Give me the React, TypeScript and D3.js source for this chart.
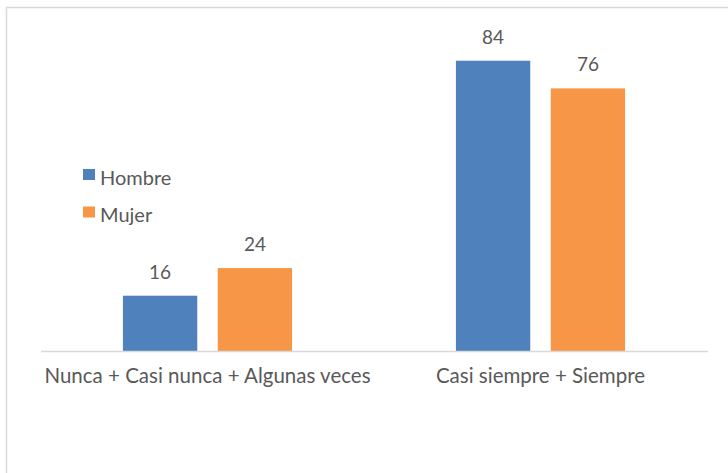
import React from "react";
import * as d3 from "d3";

const categories = ["Nunca + Casi nunca + Algunas veces", "Casi siempre + Siempre"];
const seriesNames = ["Hombre", "Mujer"];
const hombre = [16, 84];
const mujer = [24, 76];
const colors = ["#4f81bd", "#f79646"];

export default function App() {
  const W = 728;
  const H = 473;
  const x0 = d3.scaleBand<string>().domain(categories).range([41, 707]).paddingInner(0.492).paddingOuter(0.246);
  const x1 = d3.scaleBand<string>().domain(seriesNames).range([0, x0.bandwidth()]).paddingInner(0.216).paddingOuter(0);
  const y = d3.scaleLinear().domain([0, 90]).range([351, 40]);
  const values = [hombre, mujer];
  const font = "Lato, 'Open Sans', sans-serif";
  const textColor = "#595959";

  return (
    <svg width={W} height={H} style={{ position: "absolute", left: 0, top: 0, background: "#fff" }}>
      <rect x={6.5} y={7.5} width={W + 10} height={H + 10} fill="#fff" stroke="#d9d9d9" strokeWidth={1.5} />
      {categories.map((c, ci) =>
        seriesNames.map((s, si) => {
          const v = values[si][ci];
          const bx = (x0(c) ?? 0) + (x1(s) ?? 0);
          return (
            <g key={c + s}>
              <rect x={bx} y={y(v)} width={x1.bandwidth()} height={y(0) - y(v)} fill={colors[si]} />
              <text x={bx + x1.bandwidth() / 2} y={y(v) - 17} textAnchor="middle" fontFamily={font} fontSize={19} fill={textColor}>
                {v}
              </text>
            </g>
          );
        })
      )}
      <line x1={41} x2={708} y1={y(0) + 0.5} y2={y(0) + 0.5} stroke="#d9d9d9" strokeWidth={1.5} />
      {categories.map((c) => (
        <text key={c} x={(x0(c) ?? 0) + x0.bandwidth() / 2} y={383} textAnchor="middle" fontFamily={font} fontSize={20.5} fill={textColor}>
          {c}
        </text>
      ))}
      {seriesNames.map((s, si) => (
        <g key={s} transform={`translate(83, ${169 + si * 37.5})`}>
          <rect x={0} y={0} width={12} height={11} fill={colors[si]} />
          <text x={17} y={15.5} fontFamily={font} fontSize={20} fill={textColor}>
            {s}
          </text>
        </g>
      ))}
    </svg>
  );
}
